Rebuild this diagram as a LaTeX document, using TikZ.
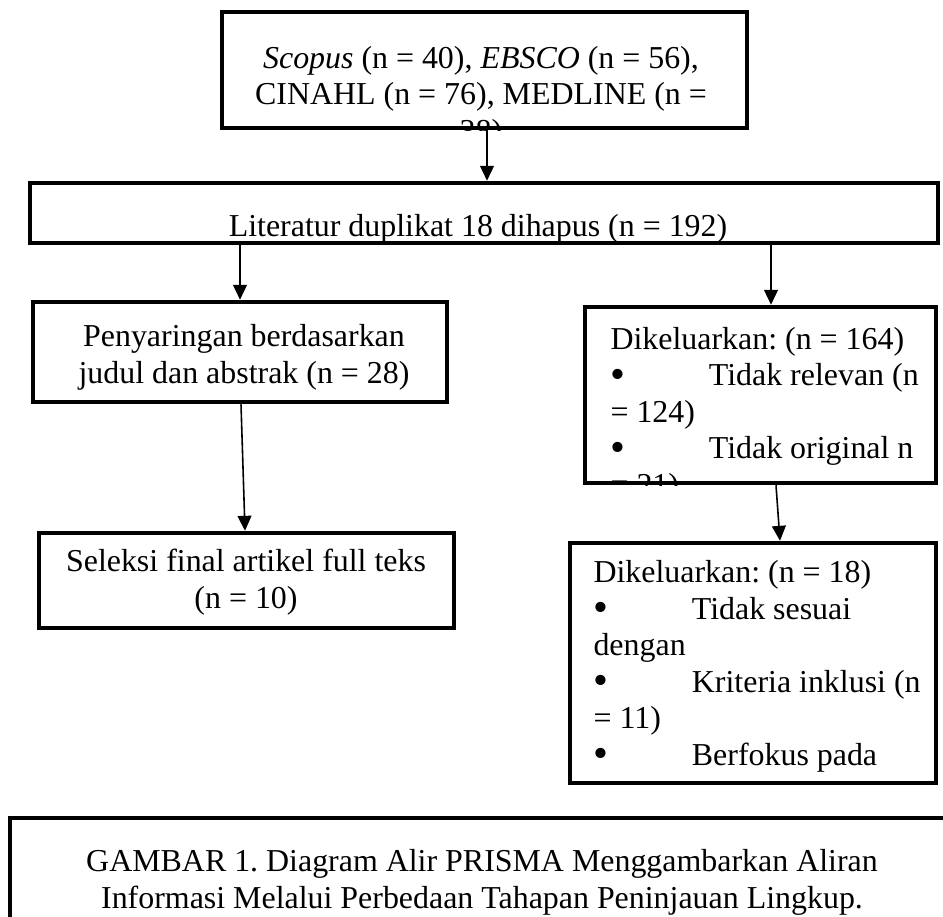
\documentclass[tikz,border=0pt]{standalone}
\usepackage{fontspec}
\setmainfont{Liberation Serif}
\usetikzlibrary{arrows.meta,fit}
\newcommand{\blt}{\makebox[37pt][l]{\raisebox{-1pt}{\fontsize{16}{13.7}\selectfont\textbullet}}}

\begin{document}
\begin{tikzpicture}[x=0.376pt, y=-0.376pt, every node/.style={font=\fontsize{12}{13.7}\selectfont\frenchspacing}, box/.style={draw, line width=1.7pt, inner sep=0pt}, txt/.style={align=center, anchor=base, inner sep=0pt}, lst/.style={align=left, anchor=base west, inner sep=0pt}, arr/.style={line width=0.6pt, -{Triangle[length=5.6pt, width=5.2pt]}}]
\useasboundingbox (0,0) rectangle (943,917);
\clip (0,0) rectangle (943,917);

\node[box, fit={(222,12) (747,128)}] (src) {};
\begin{scope}
\clip (src.north west) rectangle (src.south east);
\node[txt] (srcText) at (481,141) {\textit{Scopus} (n = 40), \textit{EBSCO} (n = 56),\\CINAHL (n = 76), MEDLINE (n =\\38)};
\end{scope}

\node[box, fit={(30,183) (938,243)}] (dup) {};
\begin{scope}
\clip (dup.north west) rectangle (dup.south east);
\node[txt] (dupText) at (478,236) {Literatur duplikat 18 dihapus (n = 192)};
\end{scope}

\node[box, fit={(33,302) (447,402)}] (scr) {};
\node[txt] (scrText) at (244,383) {Penyaringan berdasarkan\\judul dan abstrak (n = 28)};

\node[box, fit={(39,533) (454,628)}] (fin) {};
\node[txt] (finText) at (246,608) {Seleksi final artikel full teks\\(n = 10)};

\node[box, fit={(585,307) (936,483)}] (exA) {};
\begin{scope}
\clip (exA.north west) rectangle (exA.south east);
\node[lst] (exAText) at (610,495) {Dikeluarkan: (n = 164)\\\blt Tidak relevan (n\\= 124)\\\blt Tidak original n\\= 21)};
\end{scope}

\node[box, fit={(570,543) (936,783)}] (exB) {};
\begin{scope}
\clip (exB.north west) rectangle ([yshift=5.3pt]exB.south east);
\node[lst] (exBText) at (593,765) {Dikeluarkan: (n = 18)\\\blt Tidak sesuai\\dengan\\\blt Kriteria inklusi (n\\= 11)\\\blt Berfokus pada};
\end{scope}

\node[box, fit={(10,818) (960,920)}] (cap) {};
\node[txt] (capText) at (482,908) {GAMBAR 1. Diagram Alir PRISMA Menggambarkan Aliran\\Informasi Melalui Perbedaan Tahapan Peninjauan Lingkup.};

\draw[arr] (src.south -| 487,0) -- (dup.north -| 487,0);
\draw[arr] (dup.south -| 240,0) -- (scr.north -| 240,0);
\draw[arr] (dup.south -| 771,0) -- (exA.north -| 771,0);
\draw[arr] (scr.south -| 241,0) -- (fin.north -| 245,0);
\draw[arr] (exA.south -| 776,0) -- (exB.north -| 780,0);
\end{tikzpicture}
\end{document}
